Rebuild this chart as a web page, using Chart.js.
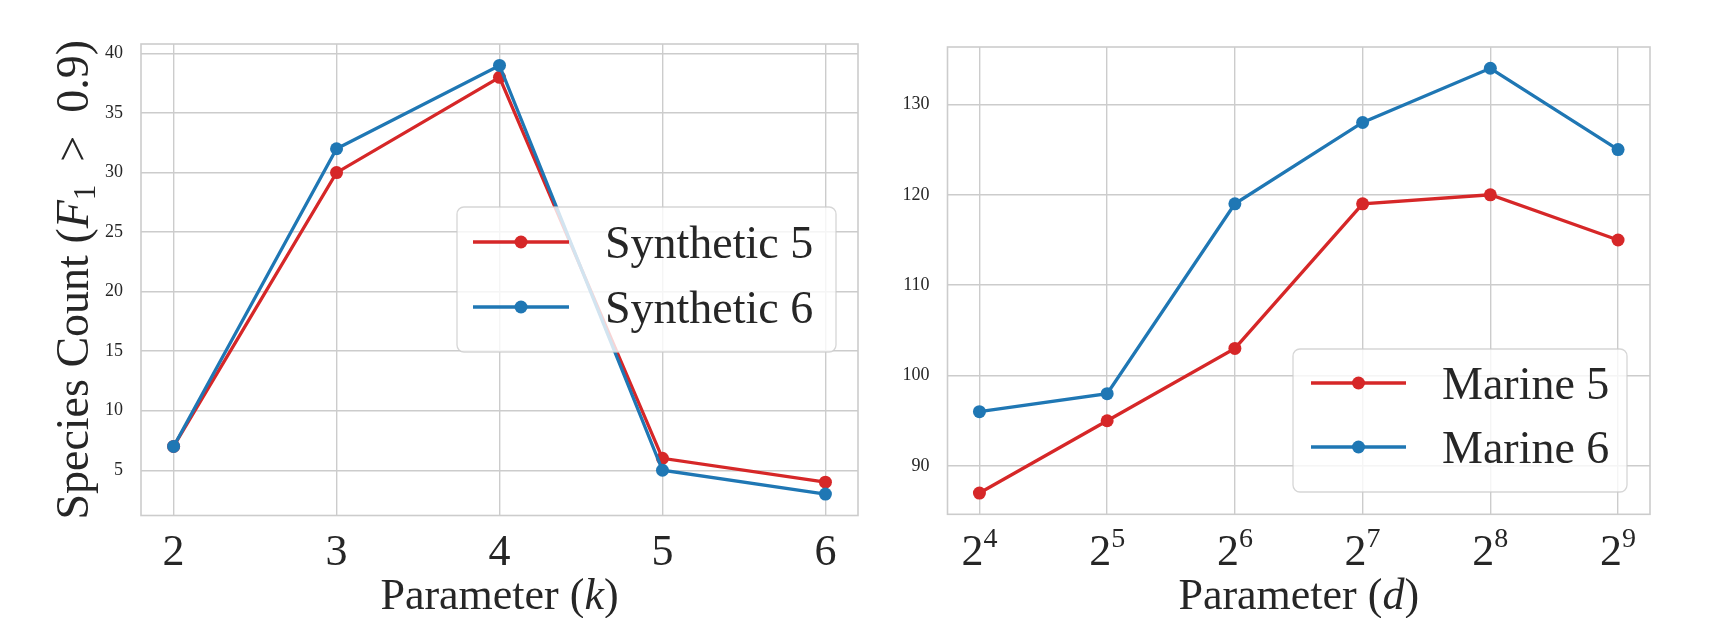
<!DOCTYPE html>
<html>
<head>
<meta charset="utf-8">
<script src="https://cdn.jsdelivr.net/npm/chart.js@4.4.1/dist/chart.umd.min.js"></script>
<style>
  html, body { margin: 0; padding: 0; background: #fff; }
  #wrap { position: relative; width: 1726px; height: 618px; overflow: hidden; }
  canvas { position: absolute; top: 0; }
</style>
</head>
<body>
<div id="wrap">
  <canvas id="leftChart" width="870" height="618" style="left:0"></canvas>
  <canvas id="rightChart" width="856" height="618" style="left:870px"></canvas>
</div>
<script>
// left panel: parameter k
const K_VALUES = [2, 3, 4, 5, 6];
const SYNTH_5 = [7, 30, 38, 6, 4];
const SYNTH_6 = [7, 32, 39, 5, 3];
const LEFT_Y_TICKS = [5, 10, 15, 20, 25, 30, 35, 40];

// right panel: parameter d = 2^n
const D_EXPONENTS = [4, 5, 6, 7, 8, 9];
const MARINE_5 = [87, 95, 103, 119, 120, 115];
const MARINE_6 = [96, 98, 119, 128, 134, 125];
const RIGHT_Y_TICKS = [90, 100, 110, 120, 130];

const RED = '#d62728';
const BLUE = '#1f77b4';
const GRID = '#cccccc';
const TEXT = '#262626';
const SERIF = '"Liberation Serif", "DejaVu Serif", serif';

// matplotlib-like 5% margins
function lims(arr) {
  const lo = Math.min(...arr), hi = Math.max(...arr), m = (hi - lo) * 0.05;
  return { min: lo - m, max: hi + m };
}

const toPts = (xs, ys) => xs.map((x, i) => ({ x, y: ys[i] }));

// draw runs of text [{t, font, dy}] centred on 0, baseline 0
function drawRuns(ctx, runs) {
  let total = 0;
  runs.forEach(r => { ctx.font = r.font; r.w = ctx.measureText(r.t).width; total += r.w; });
  let x = -total / 2;
  ctx.textBaseline = 'alphabetic';
  ctx.textAlign = 'left';
  runs.forEach(r => { ctx.font = r.font; ctx.fillText(r.t, x, r.dy || 0); x += r.w; });
}

const framePlugin = {
  id: 'frame',
  beforeDatasetsDraw(chart) {
    const { ctx, chartArea: a } = chart;
    ctx.save();
    ctx.strokeStyle = GRID;
    ctx.lineWidth = 1.6;
    ctx.strokeRect(a.left, a.top, a.right - a.left, a.bottom - a.top);
    ctx.restore();
  }
};

const legendPlugin = {
  id: 'boxLegend',
  afterDatasetsDraw(chart, args, opts) {
    const { ctx } = chart;
    const b = opts.box;
    ctx.save();
    ctx.beginPath();
    ctx.roundRect(b.x, b.y, b.w, b.h, 7);
    ctx.fillStyle = 'rgba(255,255,255,0.8)';
    ctx.fill();
    ctx.strokeStyle = 'rgba(204,204,204,0.8)';
    ctx.lineWidth = 1.3;
    ctx.stroke();
    chart.data.datasets.forEach((ds, i) => {
      const y = opts.rows[i];
      ctx.strokeStyle = ds.borderColor;
      ctx.lineWidth = 3.3;
      ctx.beginPath();
      ctx.moveTo(opts.line[0], y);
      ctx.lineTo(opts.line[1], y);
      ctx.stroke();
      ctx.fillStyle = ds.borderColor;
      ctx.beginPath();
      ctx.arc((opts.line[0] + opts.line[1]) / 2, y, 6.5, 0, Math.PI * 2);
      ctx.fill();
      ctx.fillStyle = TEXT;
      ctx.font = '46px ' + SERIF;
      ctx.textBaseline = 'alphabetic';
      ctx.textAlign = 'left';
      ctx.fillText(ds.label, opts.textX, y + 16);
    });
    ctx.restore();
  }
};

const labelsPlugin = {
  id: 'texLabels',
  afterDraw(chart, args, opts) {
    const { ctx, chartArea: a } = chart;
    const xs = chart.scales.x;
    ctx.save();
    ctx.fillStyle = TEXT;
    // x tick labels
    opts.xTicks.forEach(v => {
      ctx.save();
      ctx.translate(xs.getPixelForValue(v), 565);
      if (opts.power) {
        drawRuns(ctx, [
          { t: '2', font: '44px ' + SERIF },
          { t: String(v), font: '28px ' + SERIF, dy: -18 }
        ]);
      } else {
        drawRuns(ctx, [{ t: String(v), font: '44px ' + SERIF }]);
      }
      ctx.restore();
    });
    // x title
    ctx.save();
    ctx.translate((a.left + a.right) / 2, 609);
    drawRuns(ctx, [
      { t: 'Parameter (', font: '44px ' + SERIF },
      { t: opts.xVar, font: 'italic 44px ' + SERIF },
      { t: ')', font: '44px ' + SERIF }
    ]);
    ctx.restore();
    // y title
    if (opts.yTitle) {
      ctx.save();
      ctx.translate(88, (a.top + a.bottom) / 2);
      ctx.rotate(-Math.PI / 2);
      drawRuns(ctx, [
        { t: 'Species Count (', font: '46px ' + SERIF },
        { t: 'F', font: 'italic 46px ' + SERIF },
        { t: '1', font: '31px ' + SERIF, dy: 7 },
        { t: '  >  0.9)', font: '46px ' + SERIF }
      ]);
      ctx.restore();
    }
    ctx.restore();
  }
};

function makeChart(id, cfg) {
  const xl = lims(cfg.xVals);
  const yl = lims(cfg.series[0].concat(cfg.series[1]));
  return new Chart(document.getElementById(id), {
    type: 'line',
    data: {
      datasets: cfg.names.map((name, i) => ({
        label: name,
        data: toPts(cfg.xVals, cfg.series[i]),
        borderColor: [RED, BLUE][i],
        backgroundColor: [RED, BLUE][i],
        pointBackgroundColor: [RED, BLUE][i],
        borderWidth: 3.3,
        pointRadius: 6.5,
        pointBorderWidth: 0,
        tension: 0,
        order: 1 - i
      }))
    },
    options: {
      responsive: false,
      animation: false,
      devicePixelRatio: 1,
      layout: { padding: cfg.padding },
      scales: {
        x: {
          type: 'linear',
          min: xl.min, max: xl.max,
          afterBuildTicks: s => { s.ticks = cfg.xVals.map(v => ({ value: v })); },
          afterFit: s => { s.height = cfg.xHeight; },
          grid: { color: GRID, lineWidth: 1.4, drawTicks: false },
          border: { display: false },
          ticks: { display: false }
        },
        y: {
          min: yl.min, max: yl.max,
          afterBuildTicks: s => { s.ticks = cfg.yTicks.map(v => ({ value: v })); },
          afterFit: s => { s.width = cfg.yWidth; },
          grid: { color: GRID, lineWidth: 1.4, drawTicks: false },
          border: { display: false },
          ticks: { color: TEXT, padding: 18, font: { family: SERIF, size: 18 } }
        }
      },
      plugins: {
        legend: { display: false },
        tooltip: { enabled: false },
        boxLegend: cfg.legend,
        texLabels: cfg.labels
      }
    },
    plugins: [framePlugin, legendPlugin, labelsPlugin]
  });
}

makeChart('leftChart', {
  xVals: K_VALUES,
  series: [SYNTH_5, SYNTH_6],
  names: ['Synthetic 5', 'Synthetic 6'],
  yTicks: LEFT_Y_TICKS,
  padding: { left: 0, right: 12, top: 44, bottom: 0 },
  yWidth: 141,
  xHeight: 102.5,
  legend: { box: { x: 457, y: 207, w: 379, h: 145 }, line: [473, 569], textX: 605, rows: [242, 307] },
  labels: { xTicks: K_VALUES, power: false, xVar: 'k', yTitle: true }
});

makeChart('rightChart', {
  xVals: D_EXPONENTS,
  series: [MARINE_5, MARINE_6],
  names: ['Marine 5', 'Marine 6'],
  yTicks: RIGHT_Y_TICKS,
  padding: { left: 0, right: 76, top: 47, bottom: 0 },
  yWidth: 77.5,
  xHeight: 103.7,
  legend: { box: { x: 423, y: 349, w: 334, h: 143 }, line: [441, 536], textX: 572, rows: [383, 447] },
  labels: { xTicks: D_EXPONENTS, power: true, xVar: 'd', yTitle: false }
});
</script>
</body>
</html>
